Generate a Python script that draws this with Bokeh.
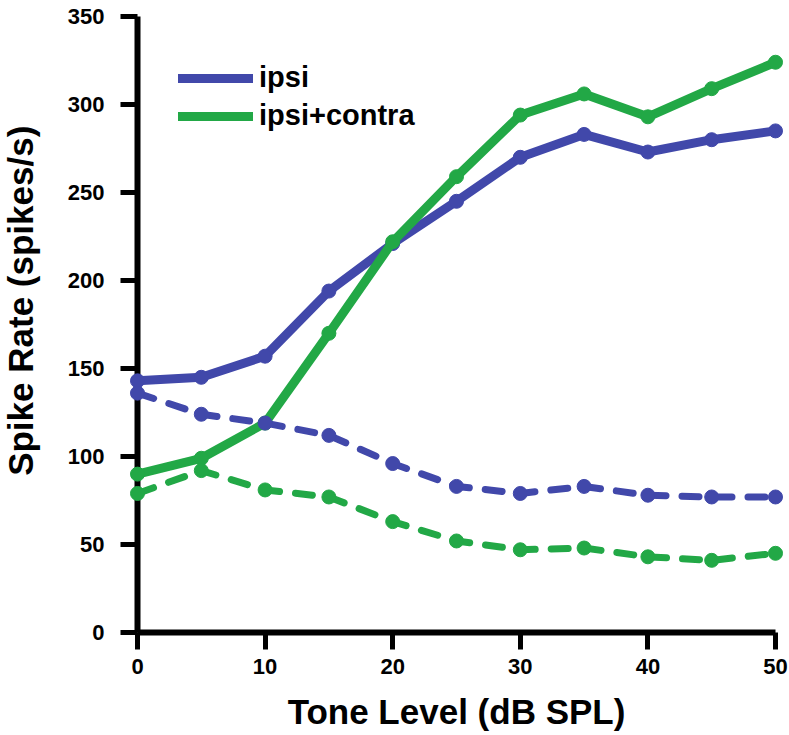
import math
from bokeh.plotting import figure
from bokeh.models import Range1d, Legend, LegendItem, Label, FixedTicker
from bokeh.embed import file_html
from bokeh.resources import INLINE

# ---- data ----
levels = [0, 5, 10, 15, 20, 25, 30, 35, 40, 45, 50]
ipsi_solid = [143, 145, 157, 194, 221, 245, 270, 283, 273, 280, 285]
contra_solid = [90, 99, 119, 170, 222, 259, 294, 306, 293, 309, 324]
ipsi_dashed = [136, 124, 119, 112, 96, 83, 79, 83, 78, 77, 77]
contra_dashed = [79, 92, 81, 77, 63, 52, 47, 48, 43, 41, 45]
x_ticks = [0, 10, 20, 30, 40, 50]
y_ticks = [0, 50, 100, 150, 200, 250, 300, 350]
series_labels = ["ipsi", "ipsi+contra"]
x_title = "Tone Level (dB SPL)"
y_title = "Spike Rate (spikes/s)"

BLUE = "#4148aa"
GREEN = "#22a846"
FONT = "Liberation Sans"

p = figure(width=789, height=735, output_backend="svg", toolbar_location=None,
           x_range=Range1d(0, 50), y_range=Range1d(0, 350),
           min_border_left=137, min_border_right=14, min_border_top=16,
           min_border_bottom=103)
p.outline_line_color = None
p.xgrid.visible = False
p.ygrid.visible = False
p.background_fill_color = "white"


def draw(y, color, dash, lw, size):
    ln = p.line(levels, y, line_color=color, line_width=lw, line_dash=dash,
                line_join="round", line_cap="round")
    sc = p.scatter(levels, y, size=size, marker="circle", fill_color=color,
                   line_color=color)
    ln.level = "overlay"
    sc.level = "overlay"
    return ln


l_ipsi = draw(ipsi_solid, BLUE, "solid", 9, 14)
l_contra = draw(contra_solid, GREEN, "solid", 9, 14)
draw(ipsi_dashed, BLUE, "17 16", 7, 14)
draw(contra_dashed, GREEN, "17 16", 7, 14)

for ax in (p.xaxis[0], p.yaxis[0]):
    ax.axis_line_width = 6
    ax.axis_line_color = "black"
    ax.major_tick_line_width = 5
    ax.major_tick_line_color = "black"
    ax.major_tick_in = 0
    ax.major_tick_out = 17
    ax.minor_tick_line_color = None
    ax.major_label_text_font = FONT
    ax.major_label_text_font_style = "bold"
    ax.major_label_text_font_size = "22px"
    ax.major_label_text_color = "black"

p.xaxis.ticker = FixedTicker(ticks=x_ticks)
p.yaxis.ticker = FixedTicker(ticks=y_ticks)
p.xaxis.major_label_standoff = 9
p.yaxis.major_label_standoff = 16

p.xaxis.axis_label = x_title
p.xaxis.axis_label_text_font = FONT
p.xaxis.axis_label_text_font_style = "bold"
p.xaxis.axis_label_text_font_size = "35px"
p.xaxis.axis_label_text_color = "black"
p.xaxis.axis_label_standoff = 15

# y-axis title, as a label in the left side panel
ylab = Label(x=0, x_units="canvas", y=89, y_units="data", text=y_title,
             angle=math.pi / 2, text_align="left", text_baseline="top",
             text_font=FONT, text_font_style="bold", text_font_size="35px",
             text_color="black")
p.add_layout(ylab, "left")

legend = Legend(items=[LegendItem(label=series_labels[0], renderers=[l_ipsi]),
                       LegendItem(label=series_labels[1], renderers=[l_contra])],
                location=(41, 500), glyph_width=75, glyph_height=28,
                label_height=28, spacing=5, padding=0, margin=0,
                label_standoff=6, label_text_font=FONT,
                label_text_font_style="bold", label_text_font_size="29px",
                label_text_color="black",
                border_line_color=None, background_fill_alpha=0)
p.add_layout(legend)

open("out.html", "w").write(file_html(p, INLINE))
